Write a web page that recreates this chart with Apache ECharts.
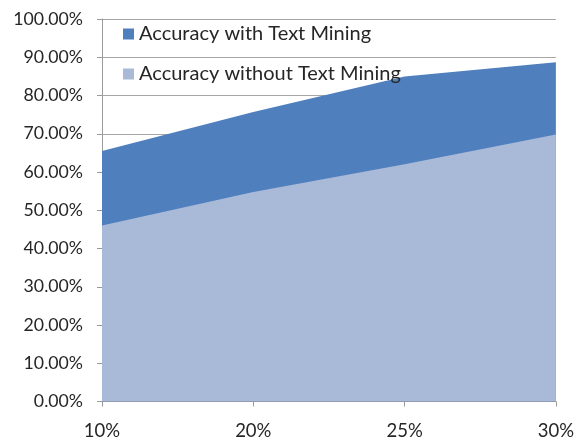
<!DOCTYPE html>
<html>
<head>
<meta charset="utf-8">
<script src="https://cdn.jsdelivr.net/npm/echarts@6/dist/echarts.min.js"></script>
<style>html,body{margin:0;padding:0;background:#fff}#c{width:577px;height:441px}</style>
</head>
<body>
<div id="c"></div>
<script>
const categories = ['10%', '20%', '25%', '30%'];
const withTextMining = [65.5, 75.7, 85.0, 88.7];
const withoutTextMining = [46.0, 54.8, 62.0, 69.8];
const seriesNames = ['Accuracy with Text Mining', 'Accuracy without Text Mining'];

const chart = echarts.init(document.getElementById('c'));
const font = 'Lato, "Open Sans", sans-serif';
chart.setOption({
  animation: false,
  backgroundColor: '#fff',
  grid: { left: 102, right: 20, top: 19, bottom: 39.5 },
  legend: {
    orient: 'vertical',
    left: 118,
    top: 19,
    itemGap: 20,
    itemWidth: 11,
    itemHeight: 11,
    icon: 'rect',
    textStyle: { fontFamily: font, fontSize: 20, color: '#262626', padding: [0, 0, 0, 0] },
    data: seriesNames
  },
  xAxis: {
    type: 'category',
    data: categories,
    boundaryGap: false,
    axisLine: { lineStyle: { color: '#9a9a9a', width: 1 } },
    axisTick: { show: true, alignWithLabel: true, length: 5, lineStyle: { color: '#9a9a9a' } },
    axisLabel: { fontFamily: font, fontSize: 18.5, color: '#262626', margin: 20 },
    splitLine: { show: false }
  },
  yAxis: {
    type: 'value',
    min: 0,
    max: 100,
    interval: 10,
    axisLine: { show: true, lineStyle: { color: '#9a9a9a', width: 1 } },
    axisTick: { show: true, length: 5, lineStyle: { color: '#9a9a9a' } },
    axisLabel: { fontFamily: font, fontSize: 17.7, color: '#262626', margin: 19,
      formatter: v => v.toFixed(2) + '%' },
    splitLine: { show: true, lineStyle: { color: '#a6a6a6', width: 1 } }
  },
  series: [
    {
      name: seriesNames[0], type: 'line', data: withTextMining,
      symbol: 'none', lineStyle: { width: 0 },
      itemStyle: { color: '#4f7fbd' },
      areaStyle: { color: '#4f7fbd', opacity: 1 }
    },
    {
      name: seriesNames[1], type: 'line', data: withoutTextMining,
      symbol: 'none', lineStyle: { width: 0 },
      itemStyle: { color: '#a9b9d8' },
      areaStyle: { color: '#a9b9d8', opacity: 1 }
    }
  ]
});
</script>
</body>
</html>
